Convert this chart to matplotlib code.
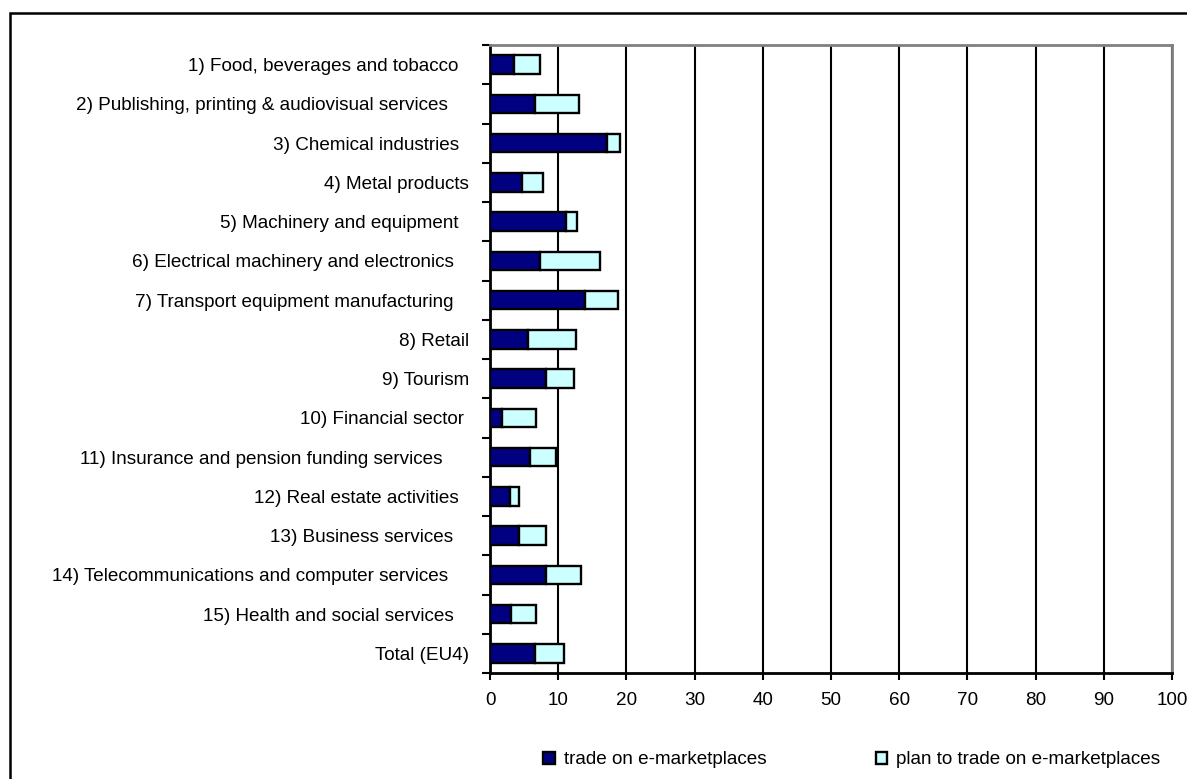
import numpy as np
import matplotlib
matplotlib.use("Agg")
import matplotlib.pyplot as plt
from matplotlib.patches import Rectangle

plt.rcParams['font.family'] = ['Liberation Sans', 'DejaVu Sans']

# sector labels (trailing spaces kept as in the source sheet)
sectors = [
    "1) Food, beverages and tobacco  ",
    "2) Publishing, printing & audiovisual services    ",
    "3) Chemical industries  ",
    "4) Metal products",
    "5) Machinery and equipment  ",
    "6) Electrical machinery and electronics   ",
    "7) Transport equipment manufacturing   ",
    "8) Retail",
    "9) Tourism",
    "10) Financial sector ",
    "11) Insurance and pension funding services     ",
    "12) Real estate activities  ",
    "13) Business services   ",
    "14) Telecommunications and computer services    ",
    "15) Health and social services   ",
    "Total (EU4)",
]
trade = [3.5, 6.6, 17.1, 4.7, 11.2, 7.4, 14.0, 5.5, 8.2, 1.7, 5.9, 2.9, 4.3, 8.2, 3.1, 6.6]
plan = [3.8, 6.5, 2.0, 3.1, 1.5, 8.7, 4.8, 7.1, 4.1, 5.0, 3.8, 1.4, 3.9, 5.2, 3.6, 4.3]
xticks = list(range(0, 101, 10))

W, H = 1187, 779
fs = 13.6
fig = plt.figure(figsize=(W / 100, H / 100), dpi=100)
ax = fig.add_axes([490 / W, 1 - 673 / H, 682 / W, 628 / H])

y = np.arange(len(sectors))
ax.barh(y, trade, height=0.47, color='#000080', edgecolor='black', linewidth=1.7,
        label='trade on e-marketplaces', zorder=3)
ax.barh(y, plan, left=trade, height=0.47, color='#CCFFFF', edgecolor='black', linewidth=1.7,
        label='plan to trade on e-marketplaces', zorder=3)

ax.set_xlim(0, 100)
ax.set_ylim(len(sectors) - 0.5, -0.5)
ax.set_xticks(xticks)
ax.set_xticklabels([str(v) for v in xticks], fontsize=fs)
ax.set_yticks(y)
ax.set_yticklabels(sectors, fontsize=fs)
ax.tick_params(axis='y', length=0, pad=15)
ax.set_yticks(np.arange(len(sectors) + 1) - 0.5, minor=True)
ax.tick_params(axis='y', which='minor', length=6, width=1.5, direction='out')
ax.tick_params(axis='x', length=5, width=1.5, direction='out', pad=9)

ax.grid(axis='x', color='black', linewidth=1.5, zorder=1)
ax.set_axisbelow(True)
for side in ['top', 'right']:
    ax.spines[side].set_color('#808080')
    ax.spines[side].set_linewidth(2)
for side in ['left', 'bottom']:
    ax.spines[side].set_color('black')
    ax.spines[side].set_linewidth(2)

# outer chart border
fig.add_artist(Rectangle((10 / W, -0.1), 1.2, 1 - 13 / H + 0.1, fill=False,
                         edgecolor='black', linewidth=1.8, transform=fig.transFigure))

fig.legend(loc='center', bbox_to_anchor=(852 / W, 1 - 760 / H), ncol=2, frameon=False,
           fontsize=fs, handlelength=0.6, handleheight=0.6, handletextpad=0.48,
           columnspacing=5.8)

fig.savefig('out.png', dpi=100)
